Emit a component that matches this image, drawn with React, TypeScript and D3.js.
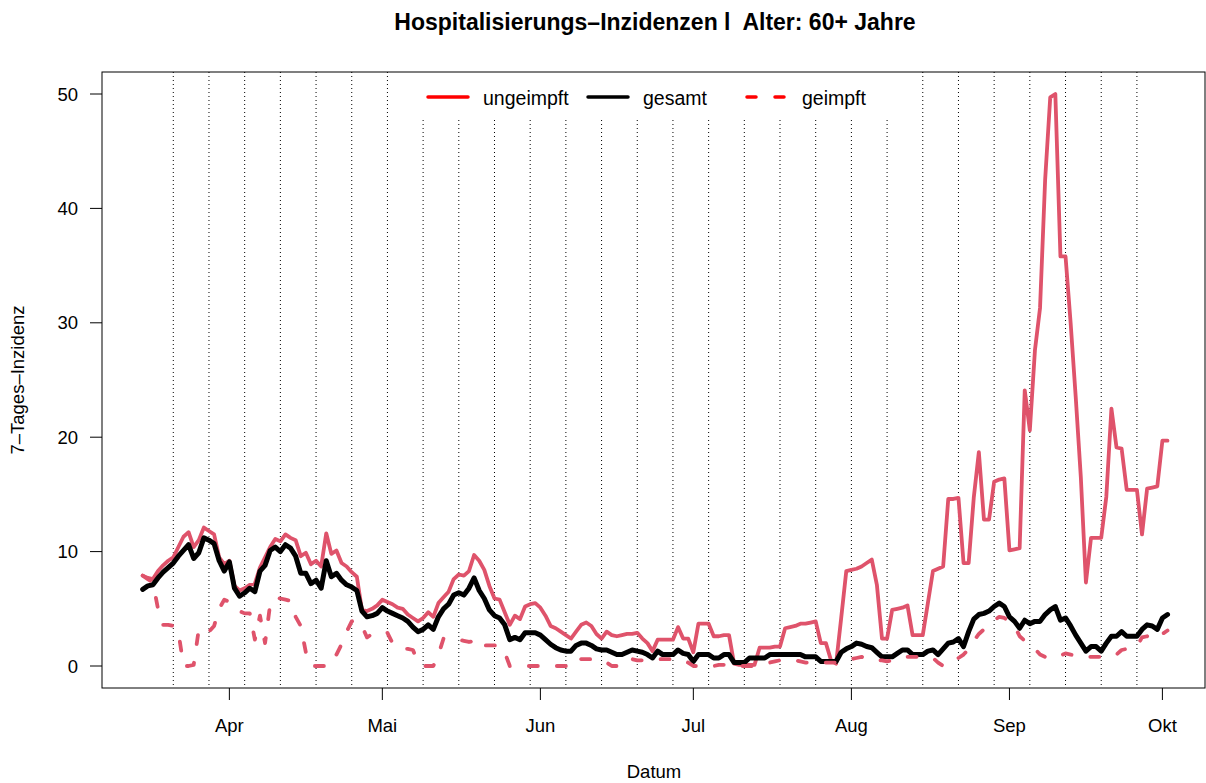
import React from 'react';
import * as d3 from 'd3';

const startDate = new Date(2021, 2, 15);

const gesamt = [
  6.7, 7.0, 7.1, 7.7, 8.2, 8.6, 9.0, 9.6, 10.1, 10.6,
  9.4, 9.9, 11.2, 11.0, 10.7, 9.2, 8.3, 9.1, 6.8, 6.1,
  6.4, 6.8, 6.5, 8.3, 8.8, 10.1, 10.4, 10.0, 10.6, 10.3,
  9.6, 8.1, 8.1, 7.2, 7.5, 6.8, 9.2, 7.8, 8.1, 7.5,
  7.1, 6.9, 6.6, 4.8, 4.3, 4.4, 4.6, 5.1, 4.8, 4.6,
  4.4, 4.2, 3.9, 3.4, 3.0, 3.2, 3.6, 3.2, 4.3, 5.0,
  5.4, 6.2, 6.4, 6.2, 6.8, 7.7, 6.6, 5.9, 4.9, 4.4,
  4.2, 3.6, 2.3, 2.5, 2.3, 2.9, 2.9, 2.9, 2.7, 2.3,
  1.9, 1.6, 1.4, 1.3, 1.3, 1.8, 2.0, 2.0, 1.8, 1.5,
  1.4, 1.4, 1.2, 1.0, 1.0, 1.2, 1.4, 1.3, 1.2, 1.0,
  0.7, 1.3, 1.0, 1.0, 1.0, 1.4, 1.1, 1.0, 0.4, 1.0,
  1.0, 1.0, 0.7, 0.7, 1.0, 1.0, 0.3, 0.3, 0.3, 0.7,
  0.7, 0.7, 0.7, 1.0, 1.0, 1.0, 1.0, 1.0, 1.0, 1.0,
  0.8, 0.8, 0.8, 0.4, 0.4, 0.4, 0.4, 1.2, 1.5, 1.7,
  2.0, 1.9, 1.7, 1.6, 1.2, 0.8, 0.8, 0.8, 1.1, 1.4,
  1.4, 1.0, 1.0, 1.0, 1.3, 1.4, 1.0, 1.5, 2.0, 2.1,
  2.4, 1.7, 3.0, 4.1, 4.5, 4.6, 4.8, 5.2, 5.5, 5.2,
  4.3, 3.9, 3.3, 4.0, 3.7, 3.9, 3.9, 4.5, 4.9, 5.2,
  4.0, 4.2, 3.5, 2.7, 2.0, 1.3, 1.7, 1.7, 1.3, 2.0,
  2.6, 2.6, 3.0, 2.6, 2.6, 2.6, 3.2, 3.6, 3.5, 3.2,
  4.2, 4.5,
];

const ungeimpft = [
  7.9, 7.7, 7.6, 8.3, 8.8, 9.2, 9.5, 10.4, 11.3, 11.7,
  10.4, 11.0, 12.1, 11.8, 11.5, 9.5, 8.9, 9.2, 7.0, 6.6,
  6.8, 7.1, 7.2, 8.6, 9.5, 10.4, 11.1, 10.9, 11.5, 11.2,
  11.0, 9.6, 9.9, 8.9, 9.2, 8.7, 11.6, 9.8, 10.1, 9.0,
  8.7, 8.2, 7.8, 4.9, 4.8, 5.0, 5.3, 5.8, 5.6, 5.4,
  5.1, 5.0, 4.5, 4.2, 3.9, 4.2, 4.7, 4.3, 5.5, 6.0,
  6.5, 7.6, 8.0, 7.9, 8.3, 9.7, 9.2, 8.4, 7.0, 5.9,
  5.8, 4.7, 3.6, 4.4, 4.1, 5.2, 5.4, 5.5, 5.1, 4.4,
  3.5, 3.3, 3.0, 2.7, 2.4, 3.0, 3.6, 3.8, 3.5, 2.8,
  2.4, 3.0, 2.7, 2.6, 2.7, 2.8, 2.8, 2.9, 2.4, 2.0,
  1.3, 2.3, 2.3, 2.3, 2.3, 3.4, 2.4, 2.4, 1.2, 3.7,
  3.7, 3.7, 2.6, 2.6, 2.7, 2.7, 0.2, 0.1, 0.1, 0.1,
  0.1, 1.6, 1.6, 1.6, 1.7, 1.7, 3.3, 3.4, 3.5, 3.7,
  3.7, 3.8, 3.9, 2.0, 2.0, 0.5, 0.2, 4.2, 8.3, 8.4,
  8.5, 8.7, 9.0, 9.3, 7.1, 2.4, 2.4, 4.9, 5.0, 5.1,
  5.3, 2.7, 2.7, 2.7, 5.5, 8.3, 8.5, 8.7, 14.6, 14.6,
  14.7, 9.0, 9.0, 14.7, 18.7, 12.8, 12.8, 16.1, 16.3, 16.4,
  10.1, 10.2, 10.3, 24.1, 20.6, 27.6, 31.3, 42.5, 49.7, 50.0,
  35.8, 35.8, 30.0, 23.5, 16.5, 7.3, 11.2, 11.2, 11.2, 14.8,
  22.5, 19.1, 19.0, 15.4, 15.4, 15.4, 11.5, 15.5, 15.6, 15.7,
  19.7, 19.7,
];

const geimpft = [
  7.9, 7.6, 7.3, 5.0, 3.6, 3.6, 3.5, 3.0, 0, 0,
  0.1, 3.2, 3.3, 3.0, 3.5, 5.0, 5.8, 5.6, 5.0, 4.8,
  4.6, 4.6, 2.3, 4.4, 2.0, 5.4, 6.0, 5.9, 5.8, 5.7,
  4.3, 3.5, 1.2, 0, 0, 0, 0, 0.1, 1.0, 1.9,
  3.0, 3.9, 4.0, 3.5, 2.5, 2.8, 3.0, 2.9, 2.9, 2.0,
  1.6, 1.5, 1.5, 1.4, 0.3, 0, 0, 0, 1.0, 2.4,
  2.4, 2.4, 2.3, 2.2, 2.1, 2.2, 2.4, 1.8, 1.8, 1.8,
  1.8, 1.2, 0, 0, 0, 0, 0, 0, 0, 0,
  0, 0, 0, 0, 0.1, 0.7, 0.6, 0.6, 0.6, 0.6,
  0.5, 0.3, 0, 0, 0.5, 0.6, 0.6, 0.5, 0.5, 0.6,
  0.6, 0.6, 0.6, 0.6, 0.6, 0.5, 0.5, 0.3, 0, 0,
  0, 0, 0, 0.1, 0.1, 0.1, 0, 0, 0, 0,
  0, 0.1, 0.2, 0.3, 0.4, 0.5, 0.5, 0.5, 0.5, 0.4,
  0.3, 0.3, 0.3, 0.3, 0.3, 0.3, 0.3, 0.4, 0.5, 0.6,
  0.7, 0.8, 0.6, 0.5, 0.5, 0.5, 0.4, 0.5, 0.7, 0.8,
  0.8, 0.8, 0.8, 0.7, 0.7, 0.7, 0.3, 0, 0.3, 0.6,
  0.7, 1.0, 1.5, 2.2, 2.8, 3.2, 3.6, 4.0, 4.3, 4.2,
  3.9, 3.5, 2.6, 2.2, 1.8, 1.5, 1.0, 0.8, 0.7, 0.7,
  0.9, 1.1, 1.0, 0.9, 0.8, 0.8, 0.8, 0.8, 0.8, 0.8,
  0.8, 1.0, 1.4, 1.5, 1.6, 1.7, 2.5, 2.6, 2.4, 2.4,
  2.8, 3.1,
];

const monthTicks = [
  new Date(2021, 3, 1), new Date(2021, 4, 1), new Date(2021, 5, 1),
  new Date(2021, 6, 1), new Date(2021, 7, 1), new Date(2021, 8, 1),
  new Date(2021, 9, 1),
];
const monthLabels = ['Apr', 'Mai', 'Jun', 'Jul', 'Aug', 'Sep', 'Okt'];
const yTicks = [0, 10, 20, 30, 40, 50];

const legendItems = [
  { label: 'ungeimpft', color: '#ff0000', dash: null, x: 428 },
  { label: 'gesamt', color: '#000000', dash: null, x: 588 },
  { label: 'geimpft', color: '#ff0000', dash: '9 19', x: 747 },
];

const W = 1206, H = 783;
const box = { left: 102, right: 1205, top: 72, bottom: 688 };
const font = '"Liberation Sans", Arial, Helvetica, sans-serif';
const lineRed = '#DF536B';

export default function App() {
  const dates = gesamt.map((_, i) => d3.timeDay.offset(startDate, i));
  const x = d3.scaleTime()
    .domain([dates[0], dates[dates.length - 1]])
    .range([142.7, 1167.5]);
  const y = d3.scaleLinear().domain([0, 50]).range([666, 94]);

  const line = d3.line<number>()
    .x((_, i) => x(dates[i]))
    .y(d => y(d));

  // weekly guide lines (Sundays) inside the data range
  const sundays = d3.timeSunday.range(dates[0], d3.timeDay.offset(dates[dates.length - 1], 1));

  return (
    <svg width={W} height={H} style={{ position: 'absolute', left: 0, top: 0, background: '#fff' }}
      fontFamily={font}>
      <text x={655} y={29.5} textAnchor="middle" fontWeight="bold" fontSize={23}
        style={{ whiteSpace: 'pre' }}>
        {'Hospitalisierungs–Inzidenzen l  Alter: 60+ Jahre'}
      </text>

      {sundays.map((d, i) => (
        <line key={i} x1={x(d)} x2={x(d)} y1={box.top} y2={box.bottom}
          stroke="#000" strokeWidth={1} strokeDasharray="1 3" />
      ))}

      <path d={line(ungeimpft) || ''} fill="none" stroke={lineRed} strokeWidth={3.8}
        strokeLinejoin="round" strokeLinecap="round" />
      <path d={line(gesamt) || ''} fill="none" stroke="#000" strokeWidth={5}
        strokeLinejoin="round" strokeLinecap="round" />
      <path d={line(geimpft) || ''} fill="none" stroke={lineRed} strokeWidth={3.8}
        strokeDasharray="9 19" strokeLinejoin="round" strokeLinecap="round" />

      <rect x={412} y={box.top} width={486} height={47} fill="#fff" />
      {legendItems.map(it => (
        <g key={it.label}>
          <line x1={it.x} x2={it.x + 40} y1={97} y2={97} stroke={it.color} strokeWidth={3.5}
            strokeDasharray={it.dash || undefined} strokeLinecap="round" />
          <text x={it.x + 55} y={104.5} fontSize={19.5}>{it.label}</text>
        </g>
      ))}

      <rect x={box.left} y={box.top} width={box.right - box.left} height={box.bottom - box.top}
        fill="none" stroke="#000" strokeWidth={1} />

      {yTicks.map(t => (
        <g key={t}>
          <line x1={box.left - 12} x2={box.left} y1={y(t)} y2={y(t)} stroke="#000" />
          <text x={78} y={y(t) + 6.5} textAnchor="end" fontSize={18.5}>{t}</text>
        </g>
      ))}
      {monthTicks.map((d, i) => (
        <g key={i}>
          <line x1={x(d)} x2={x(d)} y1={box.bottom} y2={box.bottom + 12} stroke="#000" />
          <text x={x(d)} y={732} textAnchor="middle" fontSize={18.5}>{monthLabels[i]}</text>
        </g>
      ))}

      <text x={654} y={778} textAnchor="middle" fontSize={18.5}>Datum</text>
      <text transform={`translate(24,380) rotate(-90)`} textAnchor="middle" fontSize={18.5}>
        7–Tages–Inzidenz
      </text>
    </svg>
  );
}
